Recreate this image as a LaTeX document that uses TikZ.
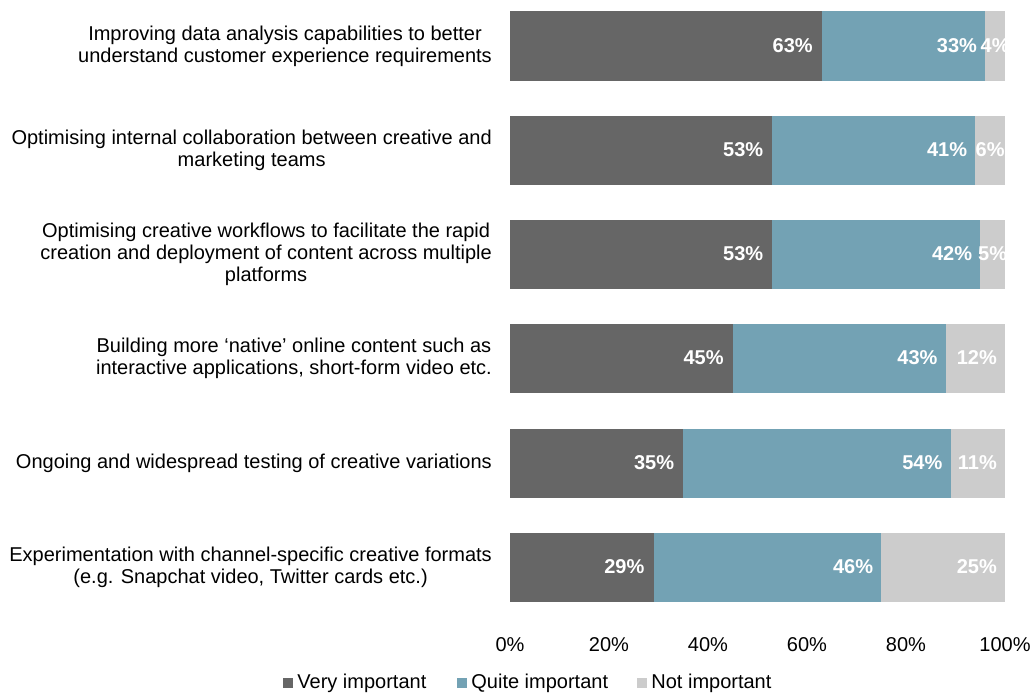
\documentclass[tikz,border=0pt]{standalone}
\usepackage{fontspec}
\setmainfont{Liberation Sans}
\usetikzlibrary{positioning}
\definecolor{veryimp}{HTML}{666666}
\definecolor{quiteimp}{HTML}{73A2B4}
\definecolor{notimp}{HTML}{CCCCCC}
\tikzset{
  seglabel/.style={text=white, font=\fontsize{20}{22}\selectfont\bfseries, anchor=east, inner sep=0pt},
  catlabel/.style={font=\fontsize{20}{22}\selectfont, align=center, anchor=east, inner sep=0pt},
  ticklabel/.style={font=\fontsize{20}{22}\selectfont, inner sep=0pt},
  legkey/.style={minimum size=10pt, inner sep=0pt},
  legtext/.style={font=\fontsize{20}{22}\selectfont, anchor=west, inner sep=0pt}
}
\begin{document}
\begin{tikzpicture}[x=1pt,y=-1pt]
  \useasboundingbox (0,0) rectangle (1033,693);
  % bars: row / centre / very / quite / not / label
  \foreach \n/\yc/\va/\vb/\vc/\txt in {
    1/46/63/33/4/{Improving data analysis capabilities to better\\understand customer experience requirements},
    2/150/53/41/6/{Optimising internal collaboration between creative and\\marketing teams},
    3/254/53/42/5/{Optimising creative workflows to facilitate the rapid\\creation and deployment of content across multiple\\platforms},
    4/358/45/43/12/{Building more `native' online content such as\\interactive applications, short-form video etc.},
    5/463/35/54/11/{Ongoing and widespread testing of creative variations},
    6/567/29/46/25/{Experimentation with channel-specific creative formats\\(e.g. Snapchat video, Twitter cards etc.)}}
  {
    \pgfmathsetmacro{\xa}{510+4.95*\va}
    \pgfmathsetmacro{\xb}{\xa+4.95*\vb}
    \fill[veryimp] (510,\yc-34.5) rectangle (\xa,\yc+34.5);
    \fill[quiteimp] (\xa,\yc-34.5) rectangle (\xb,\yc+34.5);
    \fill[notimp] (\xb,\yc-34.5) rectangle (1005,\yc+34.5);
    \node[seglabel] (va\n) at (\xa-9,\yc) {\va\%};
    \node[seglabel] (vb\n) at (\xb-8,\yc) {\vb\%};
    \begin{scope}
      \clip (\xb-30,\yc-34.5) rectangle (1005,\yc+34.5);
      \ifnum\vc<10
        \node[seglabel, anchor=center] (vc\n) at ({(\xb+1005)/2},\yc) {\vc\%};
      \else
        \node[seglabel] (vc\n) at (997,\yc) {\vc\%};
      \fi
    \end{scope}
    \node[catlabel] (cat\n) at (492,\yc) {\txt};
  }
  % axis
  \foreach \p in {0,20,40,60,80,100}
    \node[ticklabel] (tick\p) at (510+4.95*\p,645) {\p\%};
  % legend
  \node[legkey, fill=veryimp] (keyvery) at (288,683) {};
  \node[legtext, right=4pt of keyvery] (legvery) {Very important};
  \node[legkey, fill=quiteimp] (keyquite) at (462,683) {};
  \node[legtext, right=4pt of keyquite] (legquite) {Quite important};
  \node[legkey, fill=notimp] (keynot) at (642,683) {};
  \node[legtext, right=4pt of keynot] (legnot) {Not important};
\end{tikzpicture}
\end{document}
